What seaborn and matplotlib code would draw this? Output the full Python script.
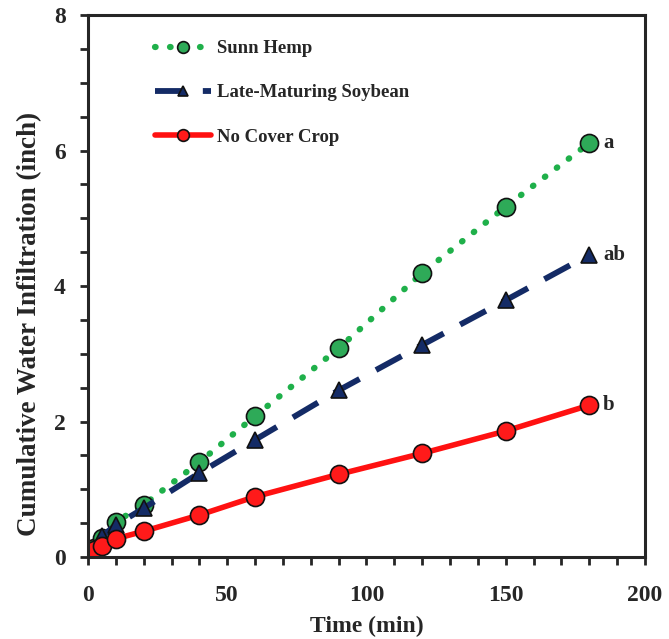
import matplotlib
matplotlib.use("Agg")
import matplotlib.pyplot as plt
import seaborn as sns
import pandas as pd
from matplotlib.ticker import MultipleLocator

time_min = [2, 5, 10, 20, 40, 60, 90, 120, 150, 180]
sunn_hemp = [0.14, 0.28, 0.52, 0.77, 1.40, 2.08, 3.08, 4.19, 5.17, 6.11]
soybean = [0.14, 0.31, 0.47, 0.72, 1.24, 1.73, 2.46, 3.13, 3.79, 4.46]
no_cover = [0.10, 0.16, 0.27, 0.38, 0.62, 0.89, 1.22, 1.53, 1.86, 2.24]
series_names = ["Sunn Hemp", "Late-Maturing Soybean", "No Cover Crop"]
letters = ["a", "ab", "b"]

df = pd.DataFrame({
    "time": time_min * 3,
    "value": sunn_hemp + soybean + no_cover,
    "series": [n for n in series_names for _ in time_min],
})

sns.set_style("ticks")
plt.rcParams["font.family"] = ["Liberation Serif", "DejaVu Serif"]
plt.rcParams["font.weight"] = "bold"

fig = plt.figure(figsize=(6.69, 6.39), dpi=100)
ax = fig.add_axes([0.1315, 0.1283, 0.8325, 0.8482])

styles = {
    "Sunn Hemp": dict(color="#1fb04a", mfc="#2eaa58", marker="o", ms=13,
                      linestyle=(0, (0.1, 2.3)), lw=4.5, dash_capstyle="round"),
    "Late-Maturing Soybean": dict(color="#142b66", mfc="#142b66", marker="^", ms=12,
                                  linestyle=(0, (5, 3.2)), lw=4.2),
    "No Cover Crop": dict(color="#ff1111", mfc="#ff1a1a", marker="o", ms=13,
                          linestyle="-", lw=4),
}

for name in series_names:
    st = styles[name]
    sub = df[df["series"] == name]
    sns.lineplot(data=sub, x="time", y="value", ax=ax, label=name,
                 color=st["color"], marker=st["marker"], markersize=st["ms"],
                 markerfacecolor=st["mfc"], markeredgecolor="#111111",
                 markeredgewidth=1.2, linestyle=st["linestyle"], linewidth=st["lw"],
                 dash_capstyle=st.get("dash_capstyle", "butt"))

for name, vals, let in zip(series_names, [sunn_hemp, soybean, no_cover], letters):
    ax.text(time_min[-1] + 5, vals[-1], let, fontsize=15, fontweight="bold",
            va="center", ha="left")

ax.set_xlim(0, 200)
ax.set_ylim(0, 8)
ax.xaxis.set_major_locator(MultipleLocator(50))
ax.xaxis.set_minor_locator(MultipleLocator(10))
ax.yaxis.set_major_locator(MultipleLocator(2))
ax.yaxis.set_minor_locator(MultipleLocator(0.5))
ax.tick_params(which="both", direction="out", width=2, length=6, labelsize=17)
ax.tick_params(axis="x", which="both", pad=14)
ax.tick_params(axis="y", which="both", pad=10)
ax.tick_params(which="minor", length=6)
for sp in ax.spines.values():
    sp.set_linewidth(2.2)

ax.set_xlabel("Time (min)", fontsize=17, fontweight="bold", labelpad=7)
ax.set_ylabel("Cumulative Water Infiltration (inch)", fontsize=19.5, fontweight="bold")
ax.yaxis.set_label_coords(-0.083, 0.43)

leg = ax.legend(loc="upper left", bbox_to_anchor=(0.09, 0.985), frameon=False,
                fontsize=13.5, handlelength=3.0, labelspacing=1.45, handletextpad=0.3,
                markerscale=0.65)
for t in leg.get_texts():
    t.set_fontweight("bold")

fig.savefig("out.png", dpi=100)
